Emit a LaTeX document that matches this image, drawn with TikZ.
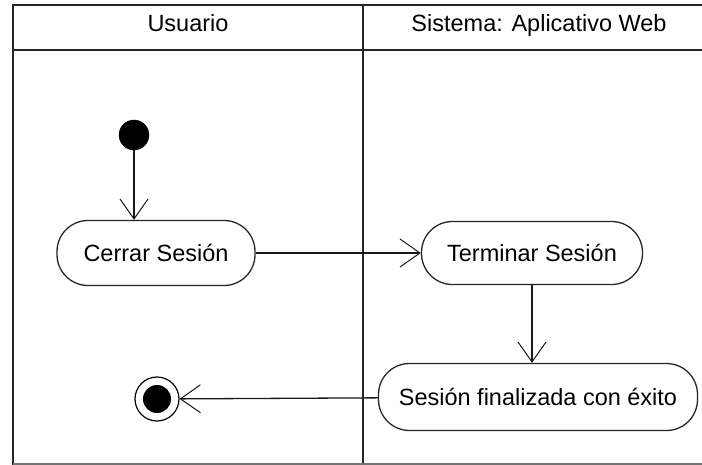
\documentclass[tikz,border=0pt]{standalone}
\usepackage{fontspec}
\setmainfont{Liberation Sans}
\usetikzlibrary{arrows.meta,positioning}

\begin{document}
\begin{tikzpicture}[
    x=1pt, y=-1pt,
    carril/.style={draw=black!85, line width=1.6pt},
    titulo/.style={anchor=base, font=\fontsize{23.5}{27}\selectfont},
    accion/.style={draw=black!85, line width=1.3pt, rounded corners=31pt,
                   fill=white, inner sep=0pt,
                   font=\fontsize{23.5}{27}\selectfont},
    inicio/.style={circle, fill=black, draw=black, minimum size=30pt, inner sep=0pt},
    fin/.style={circle, draw=black, line width=1.2pt, fill=white,
                minimum size=44pt, inner sep=0pt,
                path picture={\fill[black] (path picture bounding box.center) circle (14pt);}},
    flujo/.style={-{Straight Barb[length=20pt,width=28pt,line width=1pt]},
                  line width=1.3pt, black!90},
]
\useasboundingbox (0,0) rectangle (702,465);

% Swimlanes.
\draw[carril] (13,465) -- (13,5) -- (702,5);
\draw[carril] (13,50) -- (702,50);
\draw[carril] (363,5) -- (363,465);
\draw[draw=black!55, line width=1.2pt] (13,464) -- (702,464);
\node[titulo] (usuario) at (188,32) {Usuario};
\node[titulo] (sistema) at (539,32) {Sistema: Aplicativo Web};

% Activities.
\node[inicio] (ini) at (134,135) {};
\node[accion, minimum width=198pt, minimum height=65pt] (cerrar) at (156,253) {Cerrar Sesión};
\node[accion, minimum width=221pt, minimum height=63pt] (terminar) at (532,253) {Terminar Sesión};
\node[accion, minimum width=319pt, minimum height=67pt] (finalizada) at (538,397) {Sesión finalizada con éxito};
\node[fin] (final) at (157,399) {};

% Control flow.
\draw[flujo] (ini) -- (cerrar.north -| ini);
\draw[flujo] (cerrar) -- (terminar);
\draw[flujo] (terminar.south) -- (terminar.south |- finalizada.north);
\draw[flujo] (finalizada) -- (final);
\end{tikzpicture}
\end{document}
